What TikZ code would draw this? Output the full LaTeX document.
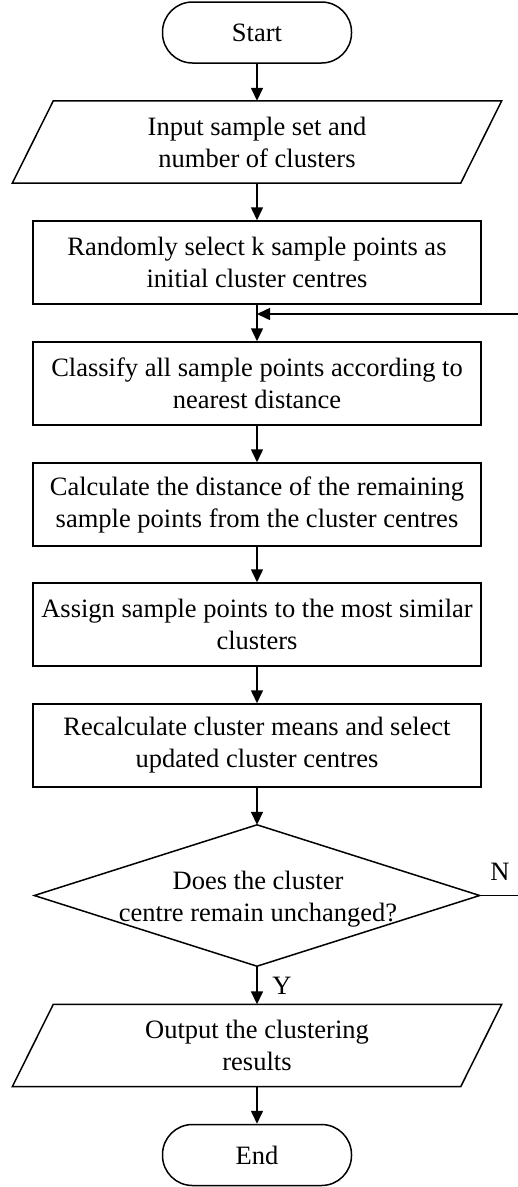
\documentclass[tikz,border=0pt]{standalone}
\usepackage{fontspec}
\setmainfont{Liberation Serif}
\usetikzlibrary{arrows.meta,calc}
\tikzset{
  line/.style={line width=1.5pt, draw=black},
  arr/.style={line width=1.5pt, -{Triangle[length=13pt,width=12pt]}},
  txt/.style={font=\fontsize{26.5}{32}\selectfont, align=center, inner sep=0pt},
  procbox/.style={txt, line, rectangle, minimum width=448pt, minimum height=83pt},
  term/.style={txt, line, rectangle, rounded corners=30pt, minimum width=189pt, minimum height=61pt},
  iobox/.style={txt, rectangle, minimum width=448pt, minimum height=82pt},
  decbox/.style={txt, rectangle, minimum width=445pt, minimum height=141pt},
  lbl/.style={font=\fontsize{26.5}{32}\selectfont, inner sep=0pt}
}
\begin{document}
\begin{tikzpicture}[x=1pt,y=-1pt]
\useasboundingbox (0,0) rectangle (518,1187);

\node[term] (start) at (257,32.5) {Start};
\node[iobox] (in) at (257,142) {Input sample set and\\number of clusters};
\draw[line] ([xshift=20.5pt]in.north west) -- ([xshift=20.5pt]in.north east)
  -- ([xshift=-20.5pt]in.south east) -- ([xshift=-20.5pt]in.south west) -- cycle;
\node[procbox] (rand) at (257,262.5) {Randomly select k sample points as\\initial cluster centres};
\node[procbox] (cls) at (257,383.5) {Classify all sample points according to\\nearest distance};
\node[procbox] (calc) at (257,504.5) {Calculate the distance of the remaining\\sample points from the cluster centres};
\node[procbox] (asg) at (257,624.5) {Assign sample points to the most similar\\clusters};
\node[procbox] (rec) at (257,745.5) {Recalculate cluster means and select\\updated cluster centres};
\node[decbox] (dec) at (257,895.5) {};
\draw[line] (dec.north) -- (dec.east) -- (dec.south) -- (dec.west) -- cycle;
\node[txt] (dectxt) at (258,899) {Does the cluster\\centre remain unchanged?};
\node[iobox] (out) at (257,1045.5) {Output the clustering\\results};
\draw[line] ([xshift=20.5pt]out.north west) -- ([xshift=20.5pt]out.north east)
  -- ([xshift=-20.5pt]out.south east) -- ([xshift=-20.5pt]out.south west) -- cycle;
\node[term] (end) at (257,1155) {End};

\draw[arr] (start.south) -- (in.north);
\draw[arr] (in.south) -- (rand.north);
\draw[arr] (rand.south) -- (cls.north);
\draw[arr] (cls.south) -- (calc.north);
\draw[arr] (calc.south) -- (asg.north);
\draw[arr] (asg.south) -- (rec.north);
\draw[arr] (rec.south) -- (dec.north);
\draw[arr] (dec.south) -- (out.north);
\draw[arr] (out.south) -- (end.north);

\coordinate (loopin) at (257,314);
\draw[arr] (dec.east) -- (530,895.5) -- (530,314) -- (loopin);

\node[lbl] (n) at (500,872) {N};
\node[lbl] (y) at (282,986) {Y};
\end{tikzpicture}
\end{document}
